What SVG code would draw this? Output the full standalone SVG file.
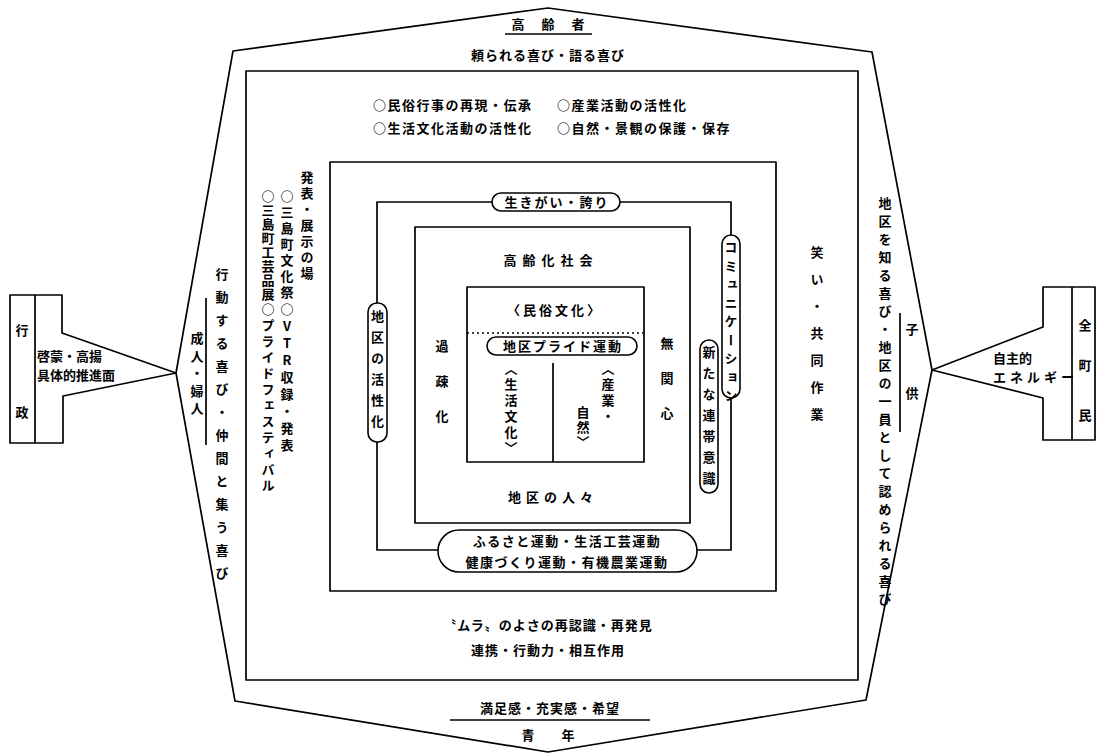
<svg xmlns="http://www.w3.org/2000/svg" width="1098" height="753" viewBox="0 0 1098 753">
<style>
.t{font-family:"Noto Sans CJK JP","Noto Sans CJK SC",sans-serif;font-weight:700;font-size:13px;fill:#000}
.c{text-anchor:middle}
.v{writing-mode:vertical-rl;text-orientation:upright}
.ln{fill:none;stroke:#000;stroke-width:1.7;stroke-linejoin:round}
.pill{fill:#fff;stroke:#000;stroke-width:1.6}
</style>
<rect width="1098" height="753" fill="#fff"/>
<g id="connectors">
<polygon class="ln" points="548,8 233,51 176,373 235,701 548,752 866,700 932,370 872,52"/>
<path class="ln" d="M377,202 H731 V550 H377 Z"/>
<line class="ln" x1="505" y1="34" x2="592" y2="34"/>
<line class="ln" x1="450" y1="720" x2="650" y2="720"/>
<line class="ln" x1="206" y1="298" x2="206" y2="445"/>
<line class="ln" x1="900" y1="313" x2="900" y2="432"/>
</g>
<g id="gyosei">
<path class="ln" d="M10,295 H62 V333 L176,373 L63,396 V443 H10 Z"/>
<line class="ln" x1="35" y1="295" x2="35" y2="443"/>
<text class="t c" x="22" y="335">行</text>
<text class="t c" x="22" y="417">政</text>
<text class="t" x="37" y="361" font-size="14">啓蒙・高揚</text>
<text class="t" x="37" y="380" font-size="14">具体的推進面</text>
</g>
<g id="chomin">
<path class="ln" d="M1095,287 H1043 V327 L932,370 L1043,398 V440 H1095 Z"/>
<line class="ln" x1="1072" y1="287" x2="1072" y2="440"/>
<text class="t c" x="1085" y="330">全</text>
<text class="t c" x="1085" y="370">町</text>
<text class="t c" x="1085" y="420">民</text>
<text class="t" x="993" y="363">自主的</text>
<text class="t" x="993" y="382" font-size="11" letter-spacing="4">エネルギー</text>
</g>
<g id="koreisha">
<text class="t c" x="518" y="29">高</text>
<text class="t c" x="548" y="29">齢</text>
<text class="t c" x="578" y="29">者</text>
<text class="t c" x="548" y="60" letter-spacing="1">頼られる喜び・語る喜び</text>
</g>
<g id="seinen">
<text class="t c" x="550" y="713" letter-spacing="1">満足感・充実感・希望</text>
<text class="t c" x="528" y="740">青</text>
<text class="t c" x="568" y="740">年</text>
</g>
<g id="seijin">
<text class="t v" x="222" y="268" font-size="14" letter-spacing="10">行動する喜び・仲間と集う喜び</text>
<text class="t v" x="197" y="332" font-size="14" letter-spacing="4.5">成人・婦人</text>
</g>
<g id="kodomo">
<text class="t v" x="885" y="197" font-size="14" letter-spacing="5">地区を知る喜び・地区の一員として認められる喜び</text>
<text class="t v" x="912" y="323" font-size="14" letter-spacing="51">子供</text>
</g>
<g id="frame2">
<rect class="ln" x="246" y="71" width="612" height="609"/>
<text class="t" x="373" y="110" letter-spacing="1.5">○民俗行事の再現・伝承</text>
<text class="t" x="557" y="110" letter-spacing="1.5">○産業活動の活性化</text>
<text class="t" x="373" y="133" letter-spacing="1.5">○生活文化活動の活性化</text>
<text class="t" x="557" y="133" letter-spacing="1.5">○自然・景観の保護・保存</text>
<text class="t v" x="307" y="171" letter-spacing="3">発表・展示の場</text>
<text class="t v" x="287" y="190" letter-spacing="3">○三島町文化祭</text>
<text class="t v" x="268" y="190" letter-spacing="1">○三島町工芸品展</text>
<text class="t v" x="287" y="303" letter-spacing="4">○VTR収録・発表</text>
<text class="t v" x="268" y="303" letter-spacing="3">○プライドフェスティバル</text>
<text class="t c" x="548" y="630" letter-spacing="1">〝ムラ〟のよさの再認識・再発見</text>
<text class="t c" x="548" y="655" letter-spacing="1">連携・行動力・相互作用</text>
</g>
<g id="frame3">
<rect class="ln" x="330" y="162" width="446" height="429"/>
<text class="t v" x="817" y="246" letter-spacing="14">笑い・共同作業</text>
</g>
<g id="ikigai">
<rect class="pill" x="492" y="193" width="128" height="18" rx="9"/>
<text class="t c" x="557" y="207" letter-spacing="2">生きがい・誇り</text>
</g>
<g id="kasseika">
<rect class="pill" x="368" y="303" width="19" height="139" rx="9"/>
<text class="t v" x="377.5" y="310" letter-spacing="8">地区の活性化</text>
</g>
<g id="communication">
<rect class="pill" x="722" y="235" width="18" height="163" rx="9"/>
<text class="t v" x="731" y="241" font-size="12" letter-spacing="5.5">コミュニケーション</text>
</g>
<g id="rentai">
<rect class="pill" x="700" y="340" width="18" height="153" rx="9"/>
<text class="t v" x="709" y="346" letter-spacing="8">新たな連帯意識</text>
</g>
<g id="furusato">
<rect class="pill" x="438" y="530" width="259" height="42" rx="21"/>
<text class="t c" x="567" y="546" font-size="14" letter-spacing="1.5">ふるさと運動・生活工芸運動</text>
<text class="t c" x="567" y="567" font-size="14" letter-spacing="1.5">健康づくり運動・有機農業運動</text>
</g>
<g id="koreika">
<rect class="ln" x="415" y="227" width="275" height="296"/>
<text class="t c" x="551" y="265" letter-spacing="6">高齢化社会</text>
<text class="t v" x="442" y="340" letter-spacing="22">過疎化</text>
<text class="t v" x="667" y="337" letter-spacing="22">無関心</text>
<text class="t c" x="553" y="502" letter-spacing="5">地区の人々</text>
</g>
<g id="minzoku">
<rect class="ln" x="467" y="287" width="177" height="175"/>
<line x1="467" y1="333" x2="644" y2="333" stroke="#000" stroke-width="1.5" stroke-dasharray="2 3"/>
<line class="ln" x1="553" y1="363" x2="553" y2="462"/>
<text class="t c" x="555" y="315" letter-spacing="3">〈民俗文化〉</text>
<text class="t v" x="511" y="362" letter-spacing="3">〈生活文化〉</text>
<text class="t v" x="608" y="362" letter-spacing="3">〈産業・</text>
<text class="t v" x="583" y="406" letter-spacing="2">自然〉</text>
</g>
<g id="pride">
<rect class="pill" x="487" y="337" width="150" height="18" rx="9"/>
<text class="t c" x="563" y="351" letter-spacing="2">地区プライド運動</text>
</g>
</svg>
